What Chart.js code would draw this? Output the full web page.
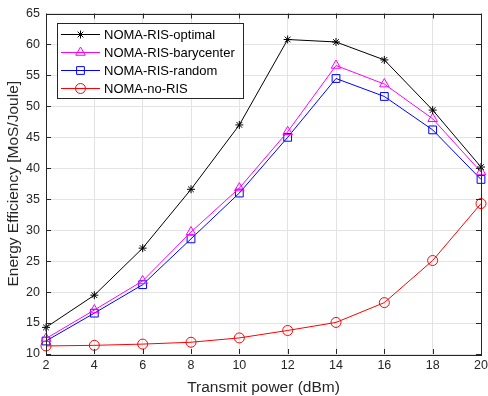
<!DOCTYPE html>
<html lang="en">
<head>
  <meta charset="UTF-8">
  <title>Energy Efficiency vs Transmit power</title>
  <script src="https://cdn.jsdelivr.net/npm/chart.js"></script>
  <style>
    body { margin: 0; background: #ffffff; }
    #wrap { width: 488px; height: 396px; position: relative; }
  </style>
</head>
<body>
  <div id="wrap"><canvas id="eeChart"></canvas></div>

  <script>
    // data
    const xVals = [2, 4, 6, 8, 10, 12, 14, 16, 18, 20];
    const optimal    = [14.3, 19.5, 27.1, 36.6, 47.0, 60.8, 60.4, 57.5, 49.4, 40.2];
    const barycenter = [12.5, 17.1, 21.8, 29.7, 36.8, 45.9, 56.6, 53.6, 48.0, 39.4];
    const randomRis  = [12.1, 16.6, 21.2, 28.6, 36.0, 45.0, 54.5, 51.6, 46.2, 38.2];
    const noRis      = [11.3, 11.4, 11.6, 11.9, 12.6, 13.8, 15.1, 18.3, 25.1, 34.3];
    const seriesNames = ['NOMA-RIS-optimal', 'NOMA-RIS-barycenter', 'NOMA-RIS-random', 'NOMA-no-RIS'];
    const yRange = [10, 65];
    const xRange = [2, 20];

    const FONT = '"Liberation Sans", Arial, Helvetica, sans-serif';
    const AX = '#262626';

    const toPts = arr => xVals.map((x, i) => ({ x: x, y: arr[i] }));
    const mk = (label, arr, color, style, r) => ({
      label: label, data: toPts(arr),
      borderColor: color, backgroundColor: 'rgba(0,0,0,0)',
      borderWidth: 1, pointStyle: style, pointRadius: r, pointHoverRadius: r,
      pointBorderColor: color, pointBackgroundColor: 'rgba(0,0,0,0)', pointBorderWidth: 1,
      tension: 0, clip: false
    });

    // box, inward ticks and matlab-like legend
    const matlabAxes = {
      id: 'matlabAxes',
      afterDatasetsDraw(chart) {
        const { ctx, chartArea: a, scales } = chart;
        ctx.save();
        ctx.strokeStyle = AX;
        ctx.lineWidth = 1;
        ctx.beginPath();
        const tl = 5;
        scales.x.ticks.forEach(t => {
          const px = Math.round(scales.x.getPixelForValue(t.value)) + 0.5;
          ctx.moveTo(px, a.bottom); ctx.lineTo(px, a.bottom - tl);
          ctx.moveTo(px, a.top); ctx.lineTo(px, a.top + tl);
        });
        scales.y.ticks.forEach(t => {
          const py = Math.round(scales.y.getPixelForValue(t.value)) + 0.5;
          ctx.moveTo(a.left, py); ctx.lineTo(a.left + tl, py);
          ctx.moveTo(a.right, py); ctx.lineTo(a.right - tl, py);
        });
        ctx.stroke();
        ctx.strokeRect(Math.round(a.left) + 0.5, Math.round(a.top) + 0.5,
          Math.round(a.right - a.left), Math.round(a.bottom - a.top));

        // legend
        const lx = 57.5, ly = 23.5, lw = 186, lh = 75;
        ctx.fillStyle = '#ffffff';
        ctx.fillRect(lx, ly, lw, lh);
        ctx.strokeStyle = AX;
        ctx.strokeRect(lx, ly, lw, lh);
        ctx.font = '13px ' + FONT;
        ctx.textBaseline = 'middle';
        chart.data.datasets.forEach((ds, i) => {
          const cy = 34.5 + i * 18;
          ctx.strokeStyle = ds.borderColor;
          ctx.lineWidth = 1;
          ctx.beginPath();
          ctx.moveTo(61, cy); ctx.lineTo(100, cy);
          ctx.stroke();
          ctx.fillStyle = 'rgba(0,0,0,0)';
          Chart.helpers.drawPoint(ctx, {
            pointStyle: ds.pointStyle, radius: ds.pointRadius, borderWidth: 1, rotation: 0
          }, 80.5, cy);
          ctx.fillStyle = '#000000';
          ctx.fillText(ds.label, 104, cy + 0.5);
        });
        ctx.restore();
      }
    };

    new Chart(document.getElementById('eeChart'), {
      type: 'line',
      data: {
        datasets: [
          mk(seriesNames[0], optimal, '#000000', 'star', 4),
          mk(seriesNames[1], barycenter, '#ff00ff', 'triangle', 5.5),
          mk(seriesNames[2], randomRis, '#0000ff', 'rect', 5.5),
          mk(seriesNames[3], noRis, '#ff0000', 'circle', 5)
        ]
      },
      options: {
        responsive: true,
        maintainAspectRatio: false,
        animation: false,
        layout: { padding: { top: 13, right: 0, left: 0, bottom: 0 } },
        plugins: { legend: { display: false }, tooltip: { enabled: false } },
        scales: {
          x: {
            type: 'linear', min: xRange[0], max: xRange[1],
            ticks: { stepSize: 2, padding: 4, color: AX, font: { family: FONT, size: 12.5 } },
            grid: { color: '#e3e3e3', drawTicks: false },
            border: { display: false },
            title: { display: true, text: 'Transmit power (dBm)', color: AX,
                     font: { family: FONT, size: 15.5, lineHeight: 1.1 }, padding: { top: 0, bottom: 0 } },
            afterFit: s => { s.height = 42; s.paddingLeft = 0; s.paddingRight = 7; }
          },
          y: {
            min: yRange[0], max: yRange[1],
            ticks: { stepSize: 5, padding: 6, color: AX, font: { family: FONT, size: 12.5 } },
            grid: { color: '#e3e3e3', drawTicks: false },
            border: { display: false },
            title: { display: true, text: 'Energy Efficiency [MoS/Joule]', color: AX,
                     font: { family: FONT, size: 15.5, lineHeight: 1.1 }, padding: { top: 5, bottom: 0 } },
            afterFit: s => { s.width = 46; }
          }
        }
      },
      plugins: [matlabAxes]
    });
  </script>
</body>
</html>
